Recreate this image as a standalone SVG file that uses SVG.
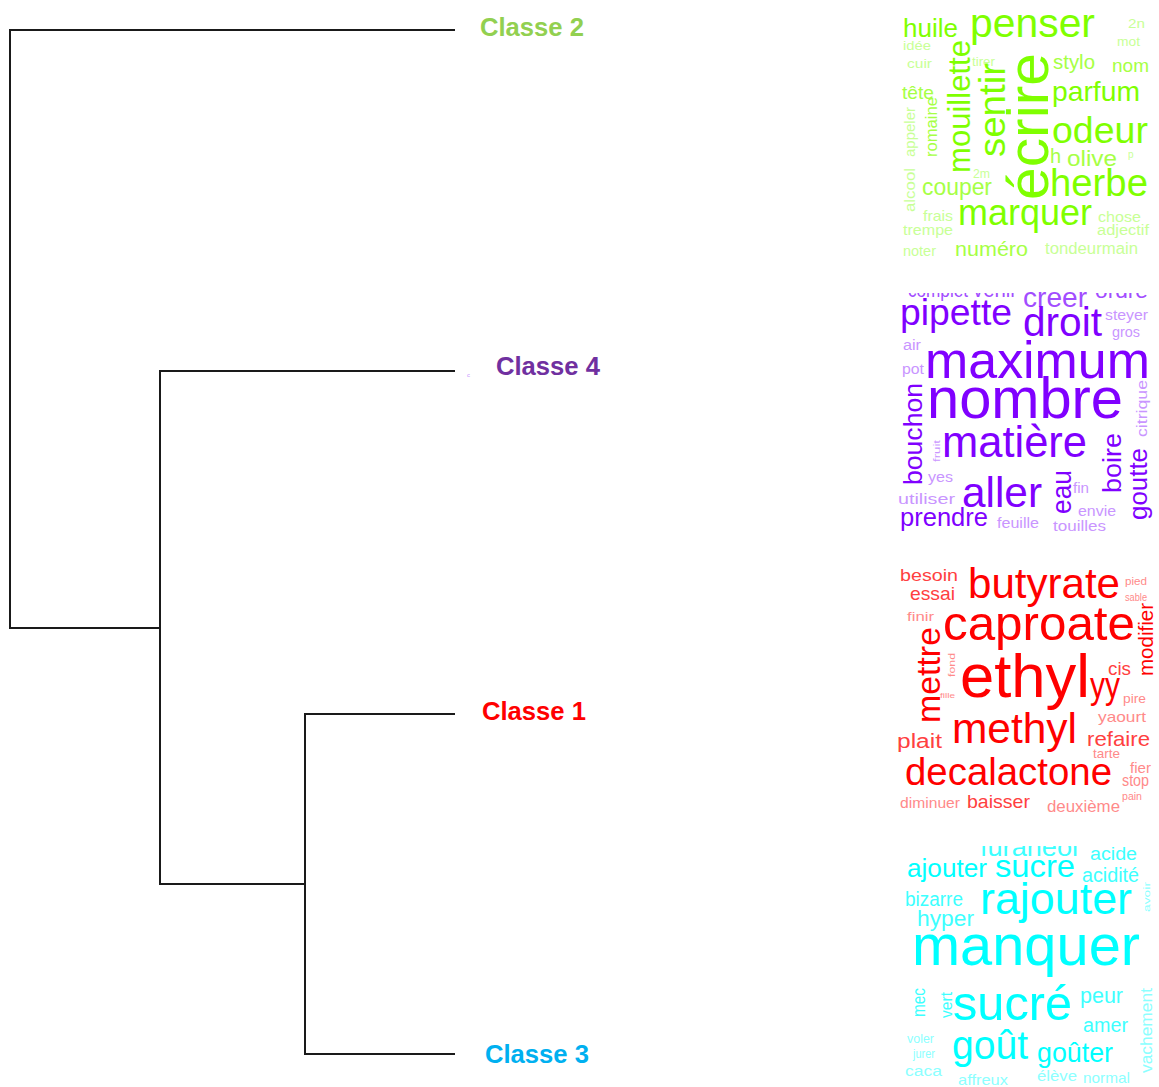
<svg xmlns="http://www.w3.org/2000/svg" width="1159" height="1087" viewBox="0 0 1159 1087">
<style>
.lbl{font-family:"Liberation Sans",Arial,sans-serif;font-weight:bold;font-size:26px}
.w{font-family:"Liberation Sans",Arial,sans-serif}
.g1{fill:#7FFF00}.g2{fill:#A6FF45}.g3{fill:#C8FF96}
.p1{fill:#8000FF}.p2{fill:#A24DFF}.p3{fill:#C995FF}
.r1{fill:#FF0000}.r2{fill:#FF4040}.r3{fill:#FF8A8A}
.c1{fill:#00FFFF}.c2{fill:#3DFFFF}.c3{fill:#8CFFFF}
.ln{stroke:#1a1a1a;stroke-width:2;fill:none}
</style>
<defs>
<clipPath id="clipP"><rect x="890" y="293" width="269" height="250"/></clipPath>
<clipPath id="clipC"><rect x="890" y="846" width="269" height="241"/></clipPath>
</defs>
<rect width="1159" height="1087" fill="#ffffff"/>
<g id="connectors">
<polyline class="ln" points="455,30 10,30 10,628 160,628"/>
<polyline class="ln" points="455,371 160,371 160,884 305,884"/>
<polyline class="ln" points="455,714 305,714 305,1054 455,1054"/>
</g>
<g id="classe2"><text class="lbl" x="480" y="36" fill="#92D050" textLength="104" lengthAdjust="spacingAndGlyphs">Classe 2</text></g>
<g id="classe4"><text class="w p3" x="467" y="377" font-size="6">c</text><text class="lbl" x="496" y="375" fill="#7030A0" textLength="104" lengthAdjust="spacingAndGlyphs">Classe 4</text></g>
<g id="classe1"><text class="lbl" x="482" y="720" fill="#FF0000" textLength="104" lengthAdjust="spacingAndGlyphs">Classe 1</text></g>
<g id="classe3"><text class="lbl" x="485" y="1063" fill="#00B0F0" textLength="104" lengthAdjust="spacingAndGlyphs">Classe 3</text></g>

<g id="cloud2" class="w">
<text class="g1" x="903" y="37" font-size="26" textLength="55" lengthAdjust="spacingAndGlyphs">huile</text>
<text class="g1" x="970" y="37" font-size="41" textLength="125" lengthAdjust="spacingAndGlyphs">penser</text>
<text class="g3" x="1128" y="28" font-size="12" textLength="17" lengthAdjust="spacingAndGlyphs">2n</text>
<text class="g3" x="903" y="50" font-size="12" textLength="28" lengthAdjust="spacingAndGlyphs">idée</text>
<text class="g3" x="1117" y="46" font-size="13" textLength="23" lengthAdjust="spacingAndGlyphs">mot</text>
<text class="g1" transform="translate(970,173) rotate(-90)" font-size="31" textLength="133" lengthAdjust="spacingAndGlyphs">mouillette</text>
<text class="g3" x="907" y="68" font-size="13" textLength="25" lengthAdjust="spacingAndGlyphs">cuir</text>
<text class="g3" x="972" y="66" font-size="12" textLength="23" lengthAdjust="spacingAndGlyphs">tirer</text>
<text class="g1" transform="translate(1005,157) rotate(-90)" font-size="36" textLength="94" lengthAdjust="spacingAndGlyphs">sentir</text>
<text class="g1" transform="translate(1048,200) rotate(-90)" font-size="58" textLength="147" lengthAdjust="spacingAndGlyphs">écrire</text>
<text class="g2" x="1053" y="69" font-size="20" textLength="42" lengthAdjust="spacingAndGlyphs">stylo</text>
<text class="g2" x="1112" y="72" font-size="19" textLength="37" lengthAdjust="spacingAndGlyphs">nom</text>
<text class="g2" x="902" y="99" font-size="19" textLength="32" lengthAdjust="spacingAndGlyphs">tête</text>
<text class="g1" x="1052" y="101" font-size="28" textLength="88" lengthAdjust="spacingAndGlyphs">parfum</text>
<text class="g3" transform="translate(915,157) rotate(-90)" font-size="14" textLength="50" lengthAdjust="spacingAndGlyphs">appeler</text>
<text class="g2" transform="translate(937,157) rotate(-90)" font-size="16" textLength="60" lengthAdjust="spacingAndGlyphs">romaine</text>
<text class="g1" x="1052" y="143" font-size="37" textLength="96" lengthAdjust="spacingAndGlyphs">odeur</text>
<text class="g2" x="1050" y="163" font-size="20">h</text>
<text class="g2" x="1067" y="166" font-size="22" textLength="50" lengthAdjust="spacingAndGlyphs">olive</text>
<text class="g3" x="1128" y="158" font-size="10">p</text>
<text class="g3" x="973" y="178" font-size="12" textLength="17" lengthAdjust="spacingAndGlyphs">2m</text>
<text class="g3" transform="translate(915,212) rotate(-90)" font-size="14" textLength="44" lengthAdjust="spacingAndGlyphs">alcool</text>
<text class="g1" x="1050" y="196" font-size="38" textLength="98" lengthAdjust="spacingAndGlyphs">herbe</text>
<text class="g2" x="922" y="195" font-size="23" textLength="70" lengthAdjust="spacingAndGlyphs">couper</text>
<text class="g1" x="958" y="225" font-size="36" textLength="134" lengthAdjust="spacingAndGlyphs">marquer</text>
<text class="g3" x="923" y="221" font-size="15" textLength="30" lengthAdjust="spacingAndGlyphs">frais</text>
<text class="g3" x="1098" y="222" font-size="15" textLength="43" lengthAdjust="spacingAndGlyphs">chose</text>
<text class="g3" x="903" y="235" font-size="15" textLength="50" lengthAdjust="spacingAndGlyphs">trempe</text>
<text class="g3" x="1097" y="235" font-size="14" textLength="52" lengthAdjust="spacingAndGlyphs">adjectif</text>
<text class="g3" x="903" y="256" font-size="14" textLength="33" lengthAdjust="spacingAndGlyphs">noter</text>
<text class="g2" x="955" y="256" font-size="21" textLength="73" lengthAdjust="spacingAndGlyphs">numéro</text>
<text class="g3" x="1045" y="254" font-size="16" textLength="93" lengthAdjust="spacingAndGlyphs">tondeurmain</text>
</g>

<g id="cloud4" class="w">
<g clip-path="url(#clipP)">
<text class="p2" x="908" y="297" font-size="20" textLength="60" lengthAdjust="spacingAndGlyphs">complet</text>
<text class="p2" x="973" y="297" font-size="24" textLength="44" lengthAdjust="spacingAndGlyphs">venir</text>
<text class="p2" x="1095" y="298" font-size="22" textLength="53" lengthAdjust="spacingAndGlyphs">ordre</text>
</g>
<text class="p2" x="1023" y="307" font-size="28" textLength="64" lengthAdjust="spacingAndGlyphs">creer</text>
<text class="p1" x="900" y="325" font-size="37" textLength="112" lengthAdjust="spacingAndGlyphs">pipette</text>
<text class="p1" x="1023" y="336" font-size="40" textLength="79" lengthAdjust="spacingAndGlyphs">droit</text>
<text class="p3" x="1105" y="320" font-size="14" textLength="43" lengthAdjust="spacingAndGlyphs">steyer</text>
<text class="p3" x="1112" y="337" font-size="14" textLength="28" lengthAdjust="spacingAndGlyphs">gros</text>
<text class="p3" x="903" y="350" font-size="14" textLength="18" lengthAdjust="spacingAndGlyphs">air</text>
<text class="p1" x="925" y="378" font-size="52" textLength="225" lengthAdjust="spacingAndGlyphs">maximum</text>
<text class="p3" x="902" y="374" font-size="14" textLength="22" lengthAdjust="spacingAndGlyphs">pot</text>
<text class="p1" x="927" y="418" font-size="58" textLength="196" lengthAdjust="spacingAndGlyphs">nombre</text>
<text class="p3" transform="translate(1147,437) rotate(-90)" font-size="14" textLength="57" lengthAdjust="spacingAndGlyphs">citrique</text>
<text class="p1" transform="translate(922,485) rotate(-90)" font-size="26" textLength="102" lengthAdjust="spacingAndGlyphs">bouchon</text>
<text class="p3" transform="translate(940,462) rotate(-90)" font-size="9" textLength="22" lengthAdjust="spacingAndGlyphs">fruit</text>
<text class="p1" x="942" y="457" font-size="44" textLength="145" lengthAdjust="spacingAndGlyphs">matière</text>
<text class="p1" transform="translate(1121,493) rotate(-90)" font-size="26" textLength="60" lengthAdjust="spacingAndGlyphs">boire</text>
<text class="p1" transform="translate(1147,520) rotate(-90)" font-size="26" textLength="72" lengthAdjust="spacingAndGlyphs">goutte</text>
<text class="p3" x="928" y="482" font-size="14" textLength="25" lengthAdjust="spacingAndGlyphs">yes</text>
<text class="p1" x="962" y="507" font-size="42" textLength="80" lengthAdjust="spacingAndGlyphs">aller</text>
<text class="p1" transform="translate(1071,514) rotate(-90)" font-size="27" textLength="44" lengthAdjust="spacingAndGlyphs">eau</text>
<text class="p3" x="1073" y="493" font-size="14" textLength="16" lengthAdjust="spacingAndGlyphs">fin</text>
<text class="p3" x="898" y="504" font-size="15" textLength="57" lengthAdjust="spacingAndGlyphs">utiliser</text>
<text class="p3" x="1078" y="516" font-size="14" textLength="38" lengthAdjust="spacingAndGlyphs">envie</text>
<text class="p1" x="900" y="526" font-size="25" textLength="88" lengthAdjust="spacingAndGlyphs">prendre</text>
<text class="p3" x="997" y="528" font-size="15" textLength="42" lengthAdjust="spacingAndGlyphs">feuille</text>
<text class="p3" x="1053" y="531" font-size="15" textLength="53" lengthAdjust="spacingAndGlyphs">touilles</text>
</g>

<g id="cloud1" class="w">
<text class="r2" x="900" y="581" font-size="16" textLength="58" lengthAdjust="spacingAndGlyphs">besoin</text>
<text class="r1" x="968" y="598" font-size="42" textLength="152" lengthAdjust="spacingAndGlyphs">butyrate</text>
<text class="r3" x="1125" y="585" font-size="10" textLength="22" lengthAdjust="spacingAndGlyphs">pied</text>
<text class="r2" x="910" y="600" font-size="19" textLength="45" lengthAdjust="spacingAndGlyphs">essai</text>
<text class="r3" x="1125" y="601" font-size="10" textLength="22" lengthAdjust="spacingAndGlyphs">sable</text>
<text class="r3" x="907" y="621" font-size="13" textLength="27" lengthAdjust="spacingAndGlyphs">finir</text>
<text class="r1" x="943" y="640" font-size="49" textLength="192" lengthAdjust="spacingAndGlyphs">caproate</text>
<text class="r1" transform="translate(1153,676) rotate(-90)" font-size="20" textLength="73" lengthAdjust="spacingAndGlyphs">modifier</text>
<text class="r1" transform="translate(940,723) rotate(-90)" font-size="33" textLength="96" lengthAdjust="spacingAndGlyphs">mettre</text>
<text class="r3" transform="translate(955,677) rotate(-90)" font-size="9" textLength="24" lengthAdjust="spacingAndGlyphs">fond</text>
<text class="r1" x="960" y="697" font-size="62" textLength="130" lengthAdjust="spacingAndGlyphs">ethyl</text>
<text class="r2" x="1108" y="675" font-size="19" textLength="23" lengthAdjust="spacingAndGlyphs">cis</text>
<text class="r1" x="1090" y="698" font-size="36" textLength="30" lengthAdjust="spacingAndGlyphs">yy</text>
<text class="r3" x="940" y="698" font-size="8" textLength="15" lengthAdjust="spacingAndGlyphs">fille</text>
<text class="r3" x="1123" y="703" font-size="13" textLength="23" lengthAdjust="spacingAndGlyphs">pire</text>
<text class="r3" x="1098" y="722" font-size="15" textLength="48" lengthAdjust="spacingAndGlyphs">yaourt</text>
<text class="r1" x="952" y="743" font-size="42" textLength="125" lengthAdjust="spacingAndGlyphs">methyl</text>
<text class="r2" x="897" y="748" font-size="20" textLength="45" lengthAdjust="spacingAndGlyphs">plait</text>
<text class="r2" x="1087" y="746" font-size="21" textLength="63" lengthAdjust="spacingAndGlyphs">refaire</text>
<text class="r3" x="1093" y="758" font-size="13" textLength="27" lengthAdjust="spacingAndGlyphs">tarte</text>
<text class="r3" x="1130" y="773" font-size="14" textLength="21" lengthAdjust="spacingAndGlyphs">fier</text>
<text class="r1" x="905" y="785" font-size="38" textLength="207" lengthAdjust="spacingAndGlyphs">decalactone</text>
<text class="r3" x="1122" y="786" font-size="16" textLength="27" lengthAdjust="spacingAndGlyphs">stop</text>
<text class="r3" x="1122" y="800" font-size="10" textLength="20" lengthAdjust="spacingAndGlyphs">pain</text>
<text class="r3" x="900" y="808" font-size="14" textLength="60" lengthAdjust="spacingAndGlyphs">diminuer</text>
<text class="r2" x="967" y="808" font-size="19" textLength="63" lengthAdjust="spacingAndGlyphs">baisser</text>
<text class="r3" x="1047" y="812" font-size="16" textLength="73" lengthAdjust="spacingAndGlyphs">deuxième</text>
</g>

<g id="cloud3" class="w">
<g clip-path="url(#clipC)">
<text class="c2" x="980" y="856" font-size="26" textLength="98" lengthAdjust="spacingAndGlyphs">furaneol</text>
</g>
<text class="c2" x="1090" y="860" font-size="18" textLength="47" lengthAdjust="spacingAndGlyphs">acide</text>
<text class="c1" x="907" y="877" font-size="26" textLength="80" lengthAdjust="spacingAndGlyphs">ajouter</text>
<text class="c1" x="995" y="877" font-size="32" textLength="80" lengthAdjust="spacingAndGlyphs">sucre</text>
<text class="c2" x="1082" y="882" font-size="20" textLength="57" lengthAdjust="spacingAndGlyphs">acidité</text>
<text class="c2" x="905" y="906" font-size="20" textLength="58" lengthAdjust="spacingAndGlyphs">bizarre</text>
<text class="c1" x="980" y="914" font-size="45" textLength="152" lengthAdjust="spacingAndGlyphs">rajouter</text>
<text class="c3" transform="translate(1150,912) rotate(-90)" font-size="9" textLength="30" lengthAdjust="spacingAndGlyphs">avoir</text>
<text class="c2" x="917" y="926" font-size="22" textLength="57" lengthAdjust="spacingAndGlyphs">hyper</text>
<text class="c1" x="912" y="965" font-size="58" textLength="228" lengthAdjust="spacingAndGlyphs">manquer</text>
<text class="c2" transform="translate(925,1017) rotate(-90)" font-size="18" textLength="29" lengthAdjust="spacingAndGlyphs">mec</text>
<text class="c2" transform="translate(952,1018) rotate(-90)" font-size="16" textLength="26" lengthAdjust="spacingAndGlyphs">vert</text>
<text class="c1" x="953" y="1020" font-size="48" textLength="119" lengthAdjust="spacingAndGlyphs">sucré</text>
<text class="c2" x="1080" y="1003" font-size="22" textLength="43" lengthAdjust="spacingAndGlyphs">peur</text>
<text class="c3" transform="translate(1152,1073) rotate(-90)" font-size="16" textLength="85" lengthAdjust="spacingAndGlyphs">vachement</text>
<text class="c2" x="1083" y="1032" font-size="20" textLength="45" lengthAdjust="spacingAndGlyphs">amer</text>
<text class="c3" x="907" y="1043" font-size="13" textLength="27" lengthAdjust="spacingAndGlyphs">voler</text>
<text class="c1" x="952" y="1059" font-size="40" textLength="76" lengthAdjust="spacingAndGlyphs">goût</text>
<text class="c1" x="1037" y="1062" font-size="28" textLength="76" lengthAdjust="spacingAndGlyphs">goûter</text>
<text class="c3" x="913" y="1058" font-size="12" textLength="22" lengthAdjust="spacingAndGlyphs">jurer</text>
<text class="c3" x="905" y="1076" font-size="14" textLength="37" lengthAdjust="spacingAndGlyphs">caca</text>
<text class="c3" x="958" y="1085" font-size="15" textLength="50" lengthAdjust="spacingAndGlyphs">affreux</text>
<text class="c3" x="1037" y="1081" font-size="14" textLength="40" lengthAdjust="spacingAndGlyphs">élève</text>
<text class="c3" x="1083" y="1083" font-size="15" textLength="47" lengthAdjust="spacingAndGlyphs">normal</text>
</g>
</svg>
